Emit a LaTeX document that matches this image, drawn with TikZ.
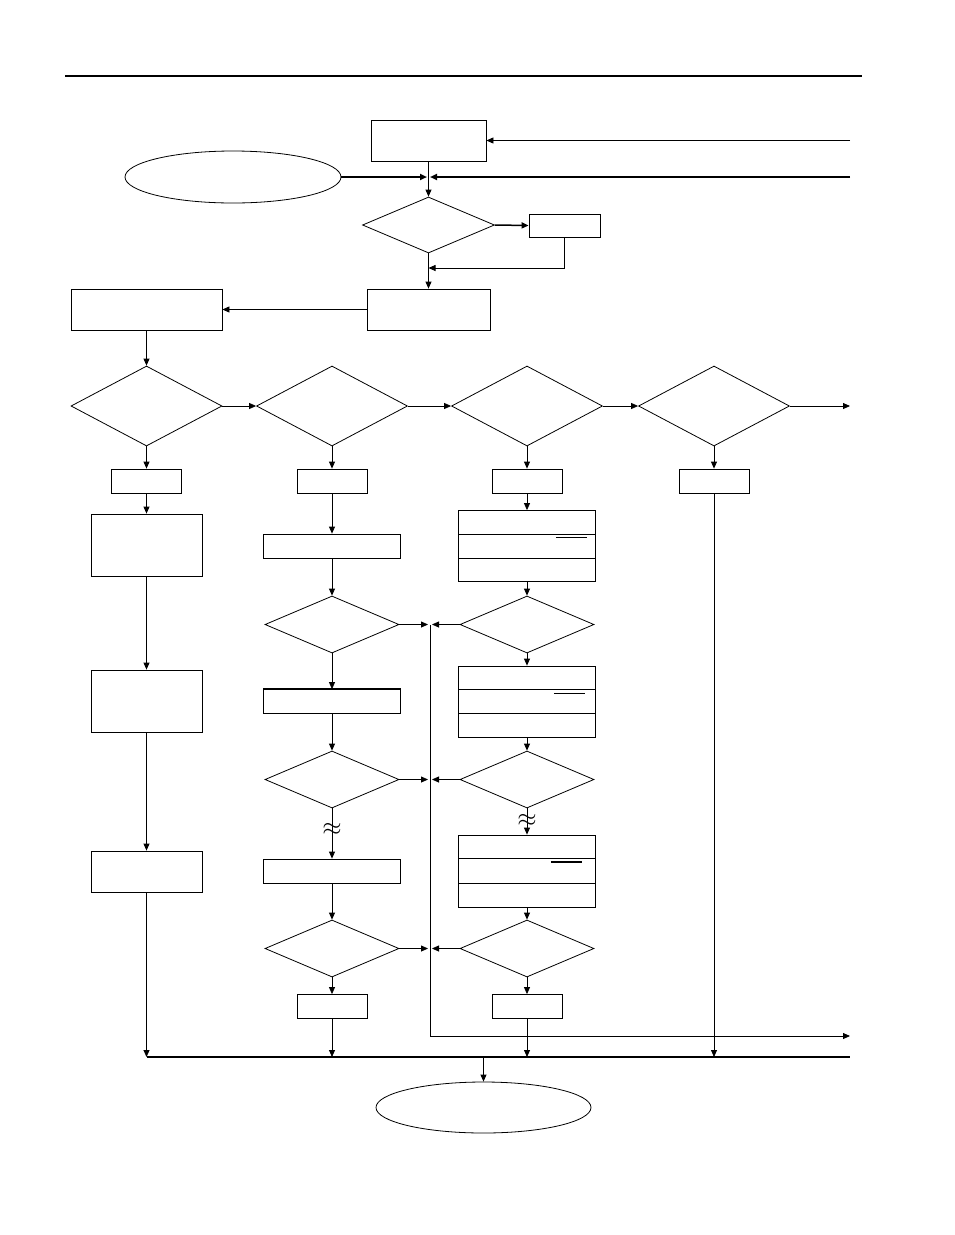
\documentclass[tikz,border=0pt]{standalone}
\usetikzlibrary{shapes.geometric,arrows.meta,calc}

\begin{document}
\begin{tikzpicture}[x=1pt, y=-1pt, line width=0.8pt, >={Triangle[length=7pt,width=6pt]}]
  % Style definitions
  \tikzstyle{box} = [rectangle, draw=black, inner sep=0pt, minimum width=137pt, minimum height=24pt]
  \tikzstyle{tab} = [box, minimum width=70pt, minimum height=24pt]
  \tikzstyle{tall} = [box, minimum width=111pt, minimum height=62pt]
  \tikzstyle{rowbox} = [box, minimum height=71pt]
  \tikzstyle{test} = [diamond, draw=black, inner sep=0pt, minimum width=151pt, minimum height=80pt]
  \tikzstyle{check} = [test, minimum width=134pt, minimum height=57pt]
  \tikzstyle{term} = [ellipse, draw=black, inner sep=0pt, minimum width=216pt, minimum height=52pt]
  \tikzstyle{bus} = [line width=1.8pt]

  \useasboundingbox (0,0) rectangle (954,1235);
  \draw[line width=1.2pt] (65,76) -- (862,76);

  % Top part
  \node (start) [term] at (233,177) {};
  \node (init) [box, minimum width=115pt, minimum height=41pt] at (428.5,140.5) {};
  \node (d0) [check, minimum width=132pt, minimum height=56pt] at (428.5,225) {};
  \node (flag) [tab, minimum width=71pt, minimum height=23pt] at (564.5,225.5) {};
  \node (setup) [box, minimum width=123pt, minimum height=41pt] at (428.5,309.5) {};
  \node (load) [box, minimum width=151pt, minimum height=41pt] at (146.5,309.5) {};

  % Tests in a row
  \node (q1) [test] at (146.5,406) {};
  \node (q2) [test] at (332,406) {};
  \node (q3) [test] at (527,406) {};
  \node (q4) [test] at (714,406) {};
  \node (t1) [tab] at (146.5,481) {};
  \node (t2) [tab] at (332,481) {};
  \node (t3) [tab] at (527,481) {};
  \node (t4) [tab] at (714,481) {};

  % Column 1
  \node (a1) [tall] at (146.5,545) {};
  \node (a2) [tall] at (146.5,701) {};
  \node (a3) [tall, minimum height=41pt] at (146.5,871.5) {};

  % Column 2
  \node (b1) [box] at (332,546) {};
  \node (c1) [check] at (332,624.5) {};
  \node (b2) [box] at (332,701.5) {};
  \node (c2) [check] at (332,779.5) {};
  \node (b3) [box] at (332,871) {};
  \node (c3) [check] at (332,948.5) {};
  \node (t5) [tab] at (332,1006.5) {};

  % Column 3
  \node (r1) [rowbox] at (527,546) {};
  \node (c4) [check] at (527,624.5) {};
  \node (r2) [rowbox] at (527,701.5) {};
  \node (c5) [check] at (527,779.5) {};
  \node (r3) [rowbox, minimum height=72pt] at (527,871) {};
  \node (c6) [check] at (527,948.5) {};
  \node (t6) [tab] at (527,1006.5) {};

  \node (stop) [term, minimum width=215pt, minimum height=51pt] at (483.5,1107.5) {};

  % Row dividers
  \foreach \r/\dx/\lw in {r1/-40/0.8pt, r2/-42/0.8pt, r3/-45/1.6pt} {
    \draw ($(\r.north west)!1/3!(\r.south west)$) -- ($(\r.north east)!1/3!(\r.south east)$);
    \draw ($(\r.north west)!2/3!(\r.south west)$) -- ($(\r.north east)!2/3!(\r.south east)$);
    \draw[line width=\lw] ($(\r.north east)+(\dx,27.5)$) -- +(31,0);
  }
  \draw[line width=1.6pt] (load.north east) -- (load.south east);
  \draw[line width=1.6pt] (b2.north west) -- (b2.north east);
  \draw[line width=1.6pt] (r3.south west) -- (r3.south east);

  % Free ends
  \coordinate (inR) at (850,140.5);
  \coordinate (inB) at (850,177);
  \coordinate (jL) at (427,177);
  \coordinate (jR) at (430,177);
  \coordinate (ret) at (428.5,268);
  \coordinate (outQ) at (850,406);
  \coordinate (m1) at (430,625);
  \coordinate (outL) at (850,1036);
  \coordinate (busL) at (147,1057);
  \coordinate (busR) at (850,1057);

  % Arrows
  \draw[->] (inR) -- (init.east);
  \draw[bus, ->] (start.east) -- (jL);
  \draw[bus, ->] (inB) -- (jR);
  \draw[->] (init.south) -- (d0.north);
  \draw[line width=1.5pt, ->] (d0.east) -- (flag.west);
  \draw[->] (flag.south) |- (ret);
  \draw[->] (d0.south) -- (setup.north);
  \draw[->] (setup.west) -- (load.east);
  \draw[->] (load.south) -- (q1.north);
  \draw[->] (q1.east) -- (q2.west);
  \draw[->] (q2.east) -- (q3.west);
  \draw[->] (q3.east) -- (q4.west);
  \draw[->] (q4.east) -- (outQ);
  \foreach \i in {1,...,4}
    \draw[->] (q\i.south) -- (t\i.north);

  \draw[->] (t1.south) -- (a1.north);
  \draw[->] (a1.south) -- (a2.north);
  \draw[->] (a2.south) -- (a3.north);
  \draw[->] (a3.south) -- (a3.south |- busL);

  \draw[->] (t2.south) -- (b1.north);
  \draw[->] (b1.south) -- (c1.north);
  \draw[->] (c1.south) -- (b2.north);
  \draw[->] (b2.south) -- (c2.north);
  \draw[->] (c2.south) -- node[pos=0.42, font=\Huge] (w1) {$\approx$} (b3.north);
  \draw[->] (b3.south) -- (c3.north);
  \draw[->] (c3.south) -- (t5.north);
  \draw[->] (t5.south) -- (t5.south |- busL);

  \draw[->] (t3.south) -- (r1.north);
  \draw[->] (r1.south) -- (c4.north);
  \draw[->] (c4.south) -- (r2.north);
  \draw[->] (r2.south) -- (c5.north);
  \draw[->] (c5.south) -- node[pos=0.45, font=\Huge] (w2) {$\approx$} (r3.north);
  \draw[->] (r3.south) -- (c6.north);
  \draw[->] (c6.south) -- (t6.north);
  \draw[->] (t6.south) -- (t6.south |- busL);
  \draw[->] (t4.south) -- (t4.south |- busL);

  % Merge line
  \foreach \c/\d in {c1/c4, c2/c5, c3/c6} {
    \draw[->] (\c.east) -- ($(m1 |- \c.east)+(-2,0)$);
    \draw[->] (\d.west) -- ($(m1 |- \d.west)+(2,0)$);
  }
  \draw[->] (m1) |- (outL);

  % Bus
  \draw[bus] (busL) -- (busR);
  \draw[->] (stop.north |- busL) -- (stop.north);
\end{tikzpicture}
\end{document}
